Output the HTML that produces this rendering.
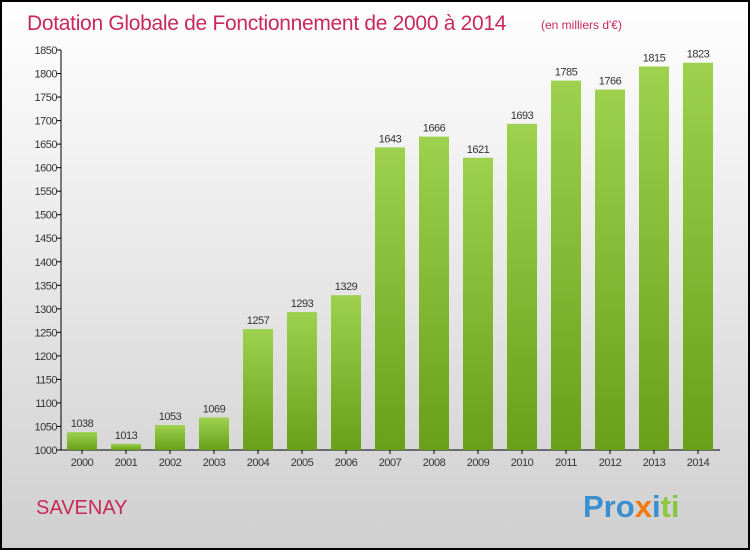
<!DOCTYPE html>
<html><head><meta charset="utf-8"><style>
body{margin:0;width:750px;height:550px;overflow:hidden;font-family:"Liberation Sans",sans-serif}
svg{display:block}
</style></head><body>
<svg id="chart" width="750" height="550">
<defs>
<linearGradient id="bg" x1="0" y1="0" x2="0" y2="1"><stop offset="0" stop-color="#ffffff"/><stop offset="1" stop-color="#cfcfcf"/></linearGradient>
<linearGradient id="bar" x1="0" y1="0" x2="0" y2="1"><stop offset="0" stop-color="#9dd14e"/><stop offset="1" stop-color="#68a019"/></linearGradient>
</defs>
<rect x="1" y="1" width="748" height="548" fill="url(#bg)" stroke="#000" stroke-width="2"/>
<text x="27" y="30" font-size="21" fill="#c8285a" letter-spacing="-0.3">Dotation Globale de Fonctionnement de 2000 à 2014</text>
<text x="541" y="29" font-size="12" fill="#c8285a">(en milliers d'€)</text>
<text x="36" y="514" font-size="20" fill="#c8285a">SAVENAY</text>
<text x="583" y="517" font-size="31" font-weight="bold"><tspan fill="#3a8fd0">Pro</tspan><tspan fill="#f07a10">x</tspan><tspan fill="#3a8fd0">i</tspan><tspan fill="#8cc63f">ti</tspan></text>
<g id="axes"></g><g id="bars"></g>
</svg>
<script>
const years=["2000","2001","2002","2003","2004","2005","2006","2007","2008","2009","2010","2011","2012","2013","2014"];
const values=[1038,1013,1053,1069,1257,1293,1329,1643,1666,1621,1693,1785,1766,1815,1823];
const ticks=[1000,1050,1100,1150,1200,1250,1300,1350,1400,1450,1500,1550,1600,1650,1700,1750,1800,1850];
const NS="http://www.w3.org/2000/svg";
const y=v=>450-(v-1000)*400/850;
const x=i=>82+i*44;
function mk(t,a,p){const e=document.createElementNS(NS,t);for(const k in a)e.setAttribute(k,a[k]);p.appendChild(e);return e;}
const ax=document.getElementById('axes'),bg=document.getElementById('bars');
let l=mk('line',{x1:61,y1:y(1850),x2:61,y2:450,stroke:'#000'},ax);


l=mk('line',{x1:61,y1:450,x2:720,y2:450,stroke:'#000'},ax);


ticks.forEach(t=>{
 const m=mk('line',{x1:57,x2:61,y1:y(t),y2:y(t),stroke:'#000'},ax);
 
 
 const tx=mk('text',{x:57,y:y(t)+4,'font-size':11,fill:'#333','text-anchor':'end','letter-spacing':'-0.5'},ax);
 tx.textContent=t;
 
 
});
years.forEach((yr,i)=>{
 const v=values[i];
 const r=mk('rect',{x:x(i)-15,y:y(v),width:30,height:450-y(v),fill:'url(#bar)'},bg);
 
 
 const m=mk('line',{x1:x(i),x2:x(i),y1:450,y2:454,stroke:'#000'},ax);
 
 
 const t=mk('text',{x:x(i),y:466,'font-size':11,fill:'#333','text-anchor':'middle','letter-spacing':'-0.5'},ax);
 t.textContent=yr;
 
 
 const vl=mk('text',{x:x(i),y:y(v)-5,'font-size':11,fill:'#333','text-anchor':'middle','letter-spacing':'-0.5'},bg);
 vl.textContent=v;
 
 
});
</script>
</body></html>
